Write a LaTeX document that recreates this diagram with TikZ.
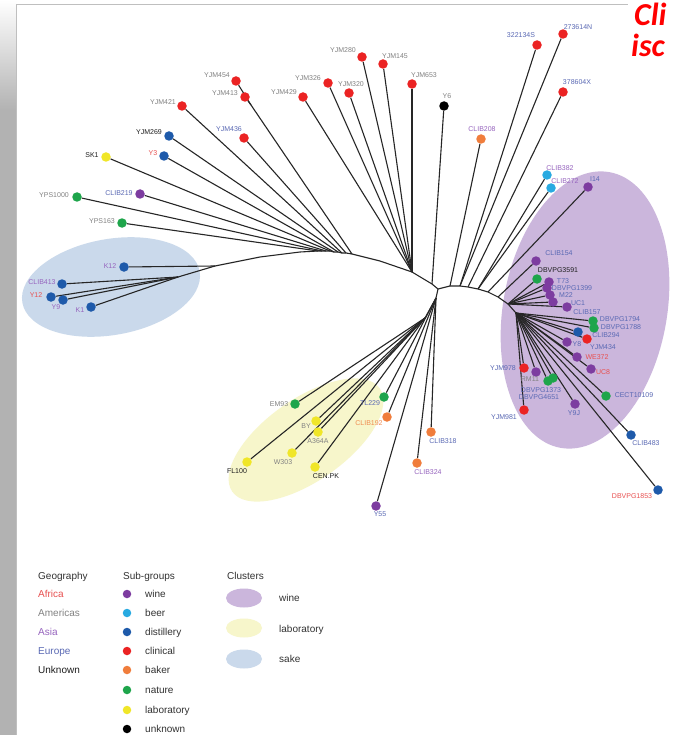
\documentclass[tikz,border=0pt]{standalone}
\usepackage{fontspec}
\newfontfamily\lsans{Liberation Sans}
\newfontfamily\carl{Carlito}
\definecolor{wineC}{RGB}{125,60,160}
\definecolor{beerC}{RGB}{40,170,225}
\definecolor{distC}{RGB}{30,90,170}
\definecolor{clinC}{RGB}{235,35,35}
\definecolor{bakerC}{RGB}{240,125,60}
\definecolor{natC}{RGB}{30,165,75}
\definecolor{labC}{RGB}{240,230,40}
\definecolor{afr}{RGB}{232,80,80}
\definecolor{amer}{RGB}{130,130,130}
\definecolor{asia}{RGB}{150,100,190}
\definecolor{eur}{RGB}{90,105,180}
\definecolor{unkL}{RGB}{30,30,30}
\definecolor{bakerL}{RGB}{240,140,80}
\definecolor{legT}{RGB}{50,50,50}
\definecolor{wineF}{RGB}{203,182,220}
\definecolor{labF}{RGB}{247,246,203}
\definecolor{sakeF}{RGB}{202,217,235}
\pgfdeclarelayer{clusters}
\pgfdeclarelayer{edges}
\pgfsetlayers{clusters,edges,main}
\tikzset{
 edge/.style={draw=black!85, line width=1.1pt, line join=round},
 dot/.style={circle, fill=#1, inner sep=0pt, minimum size=9.5pt},
 lbl/.style={font=\lsans\fontsize{7}{8}\selectfont, inner sep=0pt, text height=5pt, text depth=0pt},
 leg/.style={font=\lsans\fontsize{10}{12}\selectfont, inner sep=0pt, text height=7.2pt, text depth=0pt, anchor=west, text=legT},
 legdot/.style={circle, fill=#1, inner sep=0pt, minimum size=8.5pt},
 title/.style={font=\carl\bfseries\itshape\fontsize{32}{34}\selectfont, anchor=base west, inner sep=0pt, text=red, text height=22pt, text depth=0pt},
}
\newcommand{\lf}[8]{\node[dot=#4] (#1) at (#2,#3) {};\node[lbl,text=#7] (#1l) at (#5,#6) {#8};}
\begin{document}
\begin{tikzpicture}[x=1pt,y=-1pt]
\useasboundingbox (0,0) rectangle (673,735);
\begin{pgfonlayer}{clusters}
 \fill[white] (0,0) rectangle (673,735);
 \shade[top color=white, bottom color=black!30] (0,0) rectangle (16,110);
 \fill[black!30] (0,110) rectangle (16,735);
 \draw[black!25, line width=0.8pt] (16,735) -- (16,4) -- (628,4);
 \fill[wineF, rotate around={80:(585,310)}] (585,310) ellipse [x radius=140pt, y radius=82pt];
 \fill[sakeF, rotate around={10:(111,287)}] (111,287) ellipse [x radius=90pt, y radius=48pt];
 \fill[labF, rotate around={35:(306,440)}] (306,440) ellipse [x radius=90pt, y radius=41pt];
\end{pgfonlayer}
% title (cut off by the page edge in the slide)
\node[title] (titleA) at (634,26) {Cli};
\node[title] (titleB) at (631,57) {isc};
% leaves: top left
\lf{yjm421}{182}{106}{clinC}{163}{102}{amer}{YJM421}
\lf{yjm269}{169}{136}{distC}{149}{132}{unkL}{YJM269}
\lf{sk1}{106}{157}{labC}{92}{155}{unkL}{SK1}
\lf{y3}{164}{156}{distC}{153}{153}{afr}{Y3}
\lf{yps1000}{77}{197}{natC}{54}{195}{amer}{YPS1000}
\lf{clib219}{140}{194}{wineC}{119}{193}{eur}{CLIB219}
\lf{yps163}{122}{223}{natC}{102}{221}{amer}{YPS163}
\lf{yjm454}{236}{81}{clinC}{217}{75}{amer}{YJM454}
\lf{yjm413}{245}{97}{clinC}{225}{93}{amer}{YJM413}
\lf{yjm436}{244}{138}{clinC}{229}{129}{eur}{YJM436}
\lf{yjm429}{303}{97}{clinC}{284}{92}{amer}{YJM429}
\lf{yjm326}{328}{83}{clinC}{308}{78}{amer}{YJM326}
\lf{yjm320}{349}{93}{clinC}{351}{84}{amer}{YJM320}
\lf{yjm280}{362}{57}{clinC}{343}{50}{amer}{YJM280}
\lf{yjm145}{383}{64}{clinC}{395}{56}{amer}{YJM145}
\lf{yjm653}{412}{84}{clinC}{424}{75}{amer}{YJM653}
\lf{y6}{444}{106}{black}{447}{96}{amer}{Y6}
% top right
\lf{clib208}{481}{139}{bakerC}{482}{129}{asia}{CLIB208}
\lf{s322}{537}{45}{clinC}{521}{35}{eur}{322134S}
\lf{s273}{563}{34}{clinC}{578}{27}{eur}{273614N}
\lf{s378}{563}{92}{clinC}{577}{82}{eur}{378604X}
\lf{clib382}{547}{175}{beerC}{560}{168}{asia}{CLIB382}
\lf{clib272}{551}{188}{beerC}{565}{181}{asia}{CLIB272}
\lf{i14}{588}{187}{wineC}{595}{179}{eur}{I14}
% wine cluster
\lf{clib154}{536}{261}{wineC}{559}{253}{eur}{CLIB154}
\lf{dbvpg3591}{537}{279}{natC}{558}{270}{unkL}{DBVPG3591}
\lf{t73}{549}{282}{wineC}{563}{281}{eur}{T73}
\lf{dbvpg1399}{547}{288}{wineC}{572}{288}{eur}{DBVPG1399}
\lf{m22}{550}{295}{wineC}{566}{295}{eur}{M22}
\lf{uc1}{553}{302}{wineC}{578}{303}{eur}{UC1}
\lf{clib157}{567}{307}{wineC}{587}{312}{eur}{CLIB157}
\lf{dbvpg1794}{593}{321}{natC}{620}{319}{eur}{DBVPG1794}
\lf{dbvpg1788}{594}{328}{natC}{621}{327}{eur}{DBVPG1788}
\lf{clib294}{578}{332}{distC}{606}{335}{eur}{CLIB294}
\lf{yjm434}{587}{339}{clinC}{603}{347}{eur}{YJM434}
\lf{y8}{567}{342}{wineC}{577}{344}{eur}{Y8}
\lf{we372}{577}{357}{wineC}{597}{357}{afr}{WE372}
\lf{uc8}{591}{369}{wineC}{603}{372}{afr}{UC8}
\lf{cect}{606}{396}{natC}{634}{395}{eur}{CECT10109}
\lf{yjm978}{524}{368}{clinC}{503}{368}{eur}{YJM978}
\lf{rm11}{536}{372}{wineC}{530}{379}{amer}{RM11}
\lf{dbvpg1373}{548}{381}{natC}{541}{390}{eur}{DBVPG1373}
\lf{dbvpg4651}{553}{378}{natC}{539}{397}{eur}{DBVPG4651}
\lf{yjm981}{524}{410}{clinC}{504}{417}{eur}{YJM981}
\lf{y9j}{575}{404}{wineC}{574}{413}{eur}{Y9J}
\lf{clib483}{631}{435}{distC}{646}{443}{eur}{CLIB483}
\lf{dbvpg1853}{658}{490}{distC}{632}{496}{afr}{DBVPG1853}
% sake cluster
\lf{k12}{124}{267}{distC}{110}{266}{asia}{K12}
\lf{clib413}{62}{284}{distC}{42}{282}{asia}{CLIB413}
\lf{y12}{51}{297}{distC}{36}{295}{afr}{Y12}
\lf{y9}{63}{300}{distC}{56}{307}{asia}{Y9}
\lf{k1}{91}{307}{distC}{80}{310}{asia}{K1}
% laboratory cluster
\lf{em93}{295}{404}{natC}{279}{404}{amer}{EM93}
\lf{tl229}{384}{397}{natC}{370}{403}{eur}{TL229}
\lf{clib192}{387}{417}{bakerC}{369}{423}{bakerL}{CLIB192}
\lf{by}{316}{421}{labC}{306}{426}{amer}{BY}
\lf{a364a}{318}{432}{labC}{318}{441}{amer}{A364A}
\lf{w303}{292}{453}{labC}{283}{462}{amer}{W303}
\lf{fl100}{247}{462}{labC}{237}{471}{unkL}{FL100}
\lf{cenpk}{315}{467}{labC}{326}{476}{unkL}{CEN.PK}
\lf{clib318}{431}{432}{bakerC}{443}{441}{eur}{CLIB318}
\lf{clib324}{417}{463}{bakerC}{428}{472}{asia}{CLIB324}
\lf{y55}{376}{506}{wineC}{380}{514}{eur}{Y55}
% internal nodes
\coordinate (root) at (438,289);
\coordinate (s0) at (215,266);
\coordinate (s1) at (178,277);
\coordinate (p1) at (260,257);
\coordinate (p2) at (300,252);
\coordinate (a1) at (318,251);
\coordinate (a2) at (322,251);
\coordinate (a3) at (326,251);
\coordinate (a4) at (330,251);
\coordinate (a5) at (334,252);
\coordinate (a6) at (338,252);
\coordinate (a7) at (342,253);
\coordinate (a8) at (346,253);
\coordinate (a9) at (352,254);
\coordinate (m1) at (251,105);
\coordinate (p3) at (380,261);
\coordinate (t1) at (412,272);
\coordinate (a10) at (432,284);
\coordinate (b1) at (450,286);
\coordinate (b2) at (460,286);
\coordinate (b3) at (468,287);
\coordinate (b4) at (478,289);
\coordinate (b5) at (488,292);
\coordinate (b6) at (498,297);
\coordinate (r6) at (508,304);
\coordinate (r7) at (516,313);
\coordinate (d1) at (436,298);
\coordinate (d2) at (425,318);
\begin{pgfonlayer}{edges}
 \draw[edge] (s0) -- (p1) -- (p2) -- (a1) -- (a2) -- (a3) -- (a4) -- (a5) -- (a6) -- (a7) -- (a8) -- (a9) -- (p3) -- (t1) -- (a10) -- (root) -- (b1) -- (b2) -- (b3) -- (b4) -- (b5) -- (b6) -- (r6) -- (r7);
 \draw[edge] (root) -- (d1) -- (d2);
 \draw[edge] (s0) -- (s1);
 \draw[edge] (a9) -- (m1);
 \foreach \u/\v in {s0/k12, s1/clib413, s1/y12, s1/y9, s1/k1,
   a1/yps163, a2/yps1000, a3/clib219, a4/sk1, a5/y3, a6/yjm269, a7/yjm421, a8/yjm436,
   m1/yjm413, m1/yjm454,
   t1/yjm429, t1/yjm326, t1/yjm320, t1/yjm280, t1/yjm145, t1/yjm653, a10/y6,
   b1/clib208, b2/s322, b2/s273, b3/s378, b4/clib382, b4/clib272, b5/i14, b6/clib154,
   r6/dbvpg3591, r6/t73, r6/dbvpg1399, r6/m22, r6/uc1, r6/clib157,
   r7/dbvpg1794, r7/dbvpg1788, r7/clib294, r7/yjm434, r7/y8, r7/we372, r7/uc8, r7/cect,
   r7/yjm978, r7/rm11, r7/dbvpg1373, r7/dbvpg4651, r7/yjm981, r7/y9j, r7/clib483, r7/dbvpg1853,
   d1/tl229, d1/clib192, d1/y55, d1/clib324, d1/clib318,
   d2/em93, d2/fl100, d2/by, d2/a364a, d2/w303, d2/cenpk}
   \draw[edge] (\u) -- (\v);
\end{pgfonlayer}
% legend
\node[leg] (geo) at (38,576) {Geography};
\node[leg, text=afr] (gafr) at (38,594) {Africa};
\node[leg, text=amer] (gamer) at (38,613) {Americas};
\node[leg, text=asia] (gasia) at (38,632) {Asia};
\node[leg, text=eur] (geur) at (38,651) {Europe};
\node[leg, text=unkL] (gunk) at (38,670) {Unknown};
\node[leg] (sub) at (123,576) {Sub-groups};
\foreach \c/\t/\y [count=\i] in {wineC/wine/594, beerC/beer/613, distC/distillery/632, clinC/clinical/651, bakerC/baker/670, natC/nature/690, labC/laboratory/710, black/unknown/729}{
 \node[legdot=\c] (ld\i) at (127,\y) {};
 \node[leg] (lt\i) at (145,\y) {\t};
}
\node[leg] (clu) at (227,576) {Clusters};
\fill[wineF] (244,598) ellipse [x radius=18pt, y radius=9.5pt];
\fill[labF] (244,628) ellipse [x radius=18pt, y radius=9.5pt];
\fill[sakeF] (244,659) ellipse [x radius=18pt, y radius=9.5pt];
\node[leg] (cw) at (279,598) {wine};
\node[leg] (cl) at (279,629) {laboratory};
\node[leg] (cs) at (279,659) {sake};
\end{tikzpicture}
\end{document}
